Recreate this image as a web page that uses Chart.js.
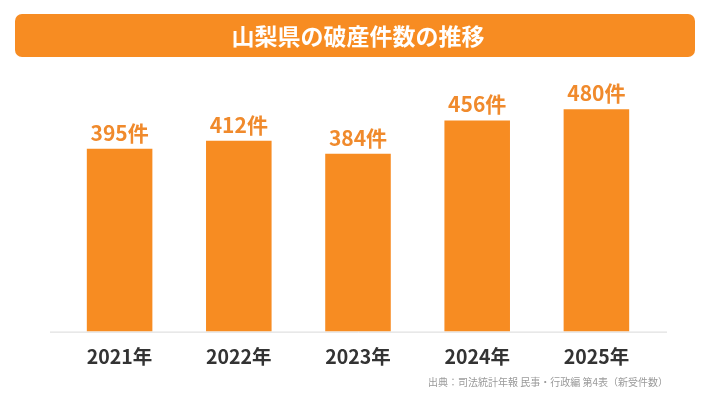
<!DOCTYPE html>
<html>
<head>
<meta charset="utf-8">
<script src="https://cdn.jsdelivr.net/npm/chart.js@4.4.1/dist/chart.umd.min.js"></script>
<style>
  html, body { margin: 0; padding: 0; background: #fff; }
  #wrap { position: relative; width: 716px; height: 403px; }
</style>
</head>
<body>
<div id="wrap"><canvas id="chart" width="716" height="403"></canvas></div>
<script>
const years = ["2021年", "2022年", "2023年", "2024年", "2025年"];
const cases = [395, 412, 384, 456, 480];
const unit = "件";
const title = "山梨県の破産件数の推移";
const source = "出典：司法統計年報 民事・行政編 第4表（新受件数）";

const ORANGE = "#F78C22";
const FONT = "'Noto Sans CJK JP', 'Noto Sans', sans-serif";

// title bar, axis line, value labels, source note
const decor = {
    id: "decor",
    beforeDraw(chart) {
        const ctx = chart.ctx;
        ctx.save();
        ctx.fillStyle = ORANGE;
        ctx.beginPath();
        ctx.roundRect(15, 14, 680, 43, 7);
        ctx.fill();
        ctx.fillStyle = "#fff";
        ctx.font = "bold 23px " + FONT;
        ctx.textAlign = "center";
        ctx.textBaseline = "middle";
        ctx.fillText(title, 358, 36);

        const y0 = chart.scales.y.getPixelForValue(0);
        ctx.strokeStyle = "#d9d9d9";
        ctx.lineWidth = 1;
        ctx.beginPath();
        ctx.moveTo(50, y0 + 0.5);
        ctx.lineTo(667, y0 + 0.5);
        ctx.stroke();
        ctx.restore();
    },
    afterDatasetsDraw(chart) {
        const ctx = chart.ctx;
        ctx.save();
        ctx.fillStyle = "#F08A2C";
        ctx.font = "bold 21px " + FONT;
        ctx.textAlign = "center";
        ctx.textBaseline = "middle";
        chart.getDatasetMeta(0).data.forEach((bar, i) => {
            ctx.fillText(cases[i] + unit, bar.x, bar.y - 16);
        });
        ctx.fillStyle = "#9a9a9a";
        ctx.font = "10px " + FONT;
        ctx.textAlign = "right";
        ctx.fillText(source, 668, 382);
        ctx.restore();
    }
};

new Chart(document.getElementById("chart"), {
    type: "bar",
    data: {
        labels: years,
        datasets: [{
            data: cases,
            backgroundColor: ORANGE,
            borderWidth: 0,
            barPercentage: 0.55,
            categoryPercentage: 1
        }]
    },
    options: {
        responsive: false,
        animation: false,
        layout: { padding: { left: 60, right: 60, top: 100, bottom: 22 } },
        plugins: { legend: { display: false }, tooltip: { enabled: false } },
        scales: {
            x: {
                grid: { display: false, drawTicks: false },
                border: { display: false },
                ticks: {
                    color: "#333",
                    padding: 13,
                    font: { family: FONT, size: 19.5, weight: "bold" }
                }
            },
            y: {
                display: false,
                min: 0,
                max: 500
            }
        }
    },
    plugins: [decor]
});
</script>
</body>
</html>
